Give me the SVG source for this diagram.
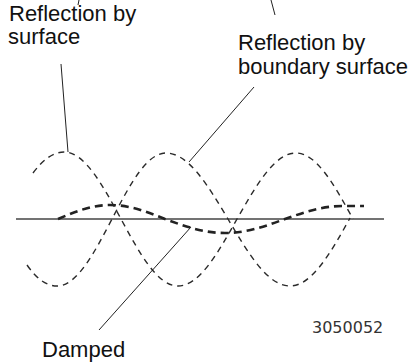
<svg xmlns="http://www.w3.org/2000/svg" width="416" height="362" viewBox="0 0 416 362">
<style>
.lbl{font-family:"Liberation Sans",Arial,sans-serif;font-size:22px;fill:#111}
.code{font-family:"DejaVu Sans",sans-serif;font-size:16px;fill:#333}
.wave{fill:none;stroke:#2a2a2a;stroke-width:1.4;stroke-dasharray:6 5}
.damped{fill:none;stroke:#222;stroke-width:2.6;stroke-dasharray:8 5}
.axis{stroke:#444;stroke-width:1.4;fill:none}
.lead{stroke:#222;stroke-width:1;fill:none}
</style>
<rect width="416" height="362" fill="#fff"/>
<g id="axis"><line class="axis" x1="16" y1="219" x2="384" y2="219"/></g>
<g id="wave-incident">
<path class="wave" d="M33,173 C43.3,159.1 53.7,152 64,152 C84.6,152 102.4,184.7 121,219 C139.6,253.3 157.4,286 178,286 C199.4,286 217.7,253.3 237,219 C256.3,185.2 274.6,153 296,153 C316.6,153 334.4,185.2 353,219"/>
</g>
<g id="wave-reflected">
<path class="wave" d="M27,265 C37,279.5 47,286 57,286 C76.9,286 94.05,253.3 112,219 C129.6,185.2 146.5,153 166,153 C188.4,153 207.8,185.2 228,219 C248.2,253.3 267.6,286 290,286 C311.7,286 330.5,253.3 350,218"/>
</g>
<g id="wave-damped">
<path class="damped" d="M58,219 C75,211.8 91.2,205 110,205 C129.9,205 147.05,211.8 165,219 C184.6,226.2 203.3,233 225,233 C246.7,233 265.4,226.2 285,219 C303.9,212.3 322,206 343,206 L364,206"/>
</g>
<g id="connectors">
<line class="lead" x1="61" y1="64" x2="68" y2="152"/>
<line class="lead" x1="254" y1="87" x2="189" y2="162"/>
<line class="lead" x1="99" y1="330" x2="191" y2="227"/>
<line class="lead" x1="79" y1="0" x2="78" y2="5"/>
<line class="lead" x1="271" y1="0" x2="275" y2="15"/>
</g>
<g id="label-surface">
<text class="lbl" x="9" y="21">Reflection by</text>
<text class="lbl" x="8" y="44">surface</text>
</g>
<g id="label-boundary">
<text class="lbl" x="238" y="50">Reflection by</text>
<text class="lbl" x="238" y="74">boundary surface</text>
</g>
<g id="label-damped">
<text class="lbl" x="42" y="357">Damped</text>
</g>
<g id="label-code">
<text class="code" x="312" y="333">3050052</text>
</g>
</svg>
